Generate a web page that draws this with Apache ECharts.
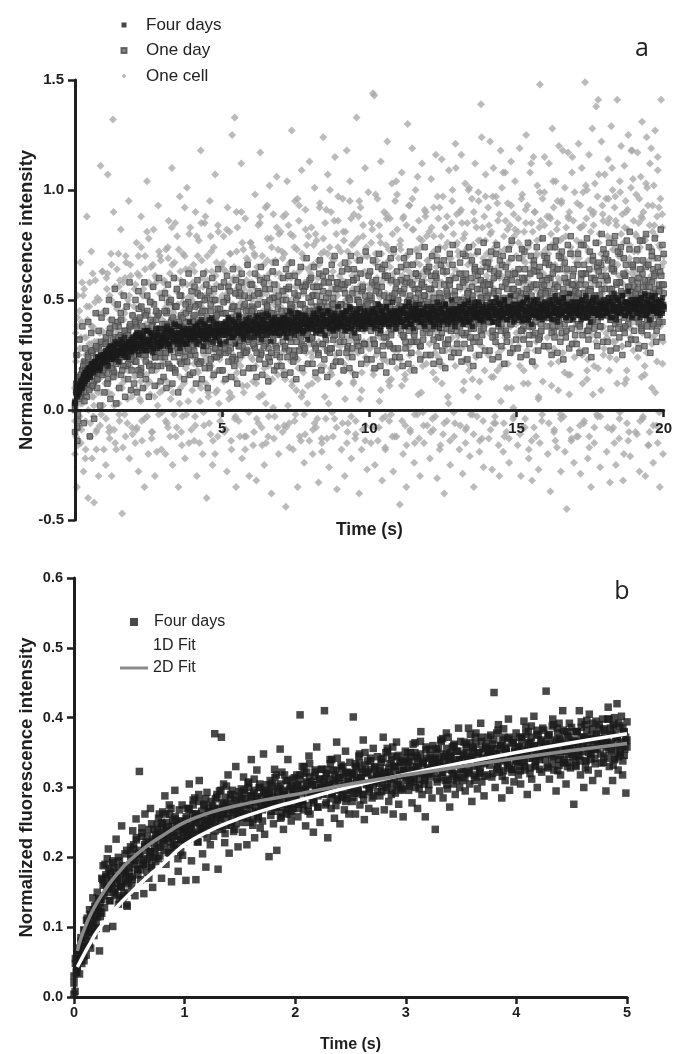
<!DOCTYPE html>
<html><head><meta charset="utf-8">
<script src="https://cdn.jsdelivr.net/npm/echarts@6/dist/echarts.min.js"></script>
<style>html,body{margin:0;padding:0;background:#fff}#c{width:675px;height:1054px}</style>
</head><body><div id="c"></div>
<script>
// ---------- DATA ----------
// Panel a values are intensity x100, panel b values are intensity x1000.
// Each array is one evenly sampled pass over the whole time span.
const panelASpan = 20;   // seconds
const panelBSpan = 5;    // seconds
const oneCellA = [
-20,35,8,-35,52,14,-8,28,67,-15,40,3,22,-28,55,18,-5,33,88,11,-40,26,47,-12,19,72,-22,38,6,-42,31,59,13,-9,44,24,-30,50,16,111,-2,36,63,21,-18,
45,12,-25,60,33,107,8,-10,52,28,71,-30,39,132,90,2,48,25,-18,64,35,10,56,-5,41,82,20,-47,30,58,14,44,-12,67,26,5,50,95,-22,37,61,19,-8,43,29,
22,55,-15,40,76,9,34,-28,61,47,13,88,-5,31,52,25,-35,70,38,16,104,43,-20,58,27,7,65,35,-10,49,82,20,-30,44,60,11,37,93,-2,53,29,68,-18,41,24,
58,14,40,-20,73,31,49,-8,86,26,62,5,38,110,-25,47,19,67,33,-12,54,79,28,-35,42,97,10,59,36,-3,71,45,22,-22,64,30,101,51,16,-15,39,83,25,57,9,
29,66,-14,48,90,35,-30,55,17,77,42,4,118,38,60,-20,46,25,85,52,12,-40,70,33,56,-6,95,41,20,63,-25,49,74,28,107,8,57,37,-12,81,44,23,65,-2,50,
52,18,79,-10,44,63,30,-28,92,37,57,8,71,40,-18,125,48,25,65,133,14,-35,55,83,33,-5,61,45,20,112,-22,50,73,28,-12,87,42,59,11,68,36,-30,54,76,24,
31,74,-16,56,43,98,20,-32,65,39,84,6,50,117,27,-8,70,45,60,-25,36,92,53,15,78,-12,41,102,58,24,-38,67,34,89,48,-3,62,19,106,40,73,-20,55,30,81,
60,26,-10,88,43,71,14,-44,55,104,38,66,-6,49,80,22,127,45,-18,62,33,95,52,9,73,-35,41,86,57,28,-14,109,47,69,17,-24,58,91,36,75,3,64,44,113,30,
45,83,12,-20,66,39,101,54,-8,77,29,60,-33,48,94,35,71,-15,57,124,20,42,85,-4,63,31,107,50,-26,74,38,90,16,55,-12,68,43,115,25,80,-36,52,97,34,61,
36,72,-18,59,96,44,21,-30,81,50,118,33,-6,67,47,104,26,-22,75,55,12,89,40,-13,63,133,30,78,52,-38,46,92,69,17,-9,84,57,39,110,24,70,-27,61,99,43,
62,28,-15,85,49,144,37,143,-25,71,54,19,96,45,-8,79,33,113,58,-32,66,41,90,23,-18,75,52,122,30,68,-5,87,46,14,103,60,-28,73,39,95,55,-12,82,48,27,
50,-43,77,34,108,61,-20,88,45,16,70,-35,57,130,40,93,25,-10,66,48,119,31,82,-24,59,100,43,72,-2,55,86,29,-30,74,47,112,20,63,-15,91,52,35,79,-7,68,
44,81,-22,59,105,37,70,-9,92,53,26,116,65,-31,48,87,33,74,-16,58,114,41,97,20,-38,62,83,50,-5,76,36,109,56,-25,69,42,95,28,80,-12,64,121,46,89,31,
72,34,-18,90,55,116,41,-29,78,60,23,103,47,-8,85,66,100,38,-21,70,52,96,14,75,-35,58,112,44,83,-3,63,99,30,-14,77,139,124,36,67,-26,88,57,107,40,71,
53,92,-13,68,122,40,81,-27,59,110,35,74,-6,97,50,18,86,63,-30,72,118,45,101,28,-19,79,56,108,38,-10,66,94,48,-24,84,60,113,31,76,-4,89,52,104,42,70,
61,-16,87,46,119,33,-30,74,98,55,12,81,-8,67,125,41,93,58,-22,76,108,37,85,-32,64,115,50,90,20,-12,71,102,44,-27,83,148,54,78,-5,96,62,29,115,48,73,
49,88,-20,71,112,38,-37,80,57,128,26,92,-9,66,104,45,-17,85,60,120,34,77,-28,95,52,118,-3,69,101,41,83,-45,63,117,55,90,16,74,-14,108,47,86,-24,99,58,
67,-12,94,52,121,36,83,-29,76,110,44,99,-6,62,149,48,87,18,-22,72,116,55,91,-35,68,128,40,84,-15,103,57,138,-2,97,141,43,80,-26,64,122,53,89,25,71,107,
58,96,-19,79,114,42,87,-33,65,129,50,100,-8,73,92,31,-25,84,141,46,70,-13,104,61,120,37,89,-32,76,111,53,95,14,-6,82,125,48,67,-21,101,59,118,40,86,72,
63,-10,98,51,117,39,85,-28,74,106,47,131,-4,90,57,20,-30,79,124,44,93,-16,68,112,54,119,33,81,-24,102,60,127,42,-7,88,115,49,75,-35,96,141,56,83,-20,70
];
const oneCellA2 = [
10,-12,42,25,-3,33,58,5,20,-18,47,14,30,-6,38,62,2,27,-10,51,18,35,8,44,23,
32,8,55,20,-8,41,66,15,28,-15,48,36,3,59,25,12,45,-2,70,30,18,52,38,6,43,
47,16,-9,62,33,5,74,24,55,-4,39,81,12,50,28,-13,66,36,20,58,2,43,70,27,9,
21,54,38,-6,69,30,11,83,45,-2,60,26,48,73,15,-10,57,35,92,19,41,4,64,31,50,
58,21,-7,44,70,30,12,85,49,-1,37,63,25,8,52,79,33,-14,46,17,67,40,3,56,28,
27,64,40,-9,53,15,81,35,6,59,44,-3,72,22,48,31,90,11,55,38,-12,66,19,47,76,
50,13,71,36,-4,61,26,88,43,7,57,32,-15,68,20,46,78,39,1,54,29,83,16,62,41,
33,69,18,52,-8,45,84,27,60,11,39,74,-2,56,23,93,48,6,65,35,-11,58,21,79,42,
61,24,47,-6,80,38,14,66,51,-13,35,72,28,91,44,3,57,19,69,40,-4,53,30,86,12,
22,58,43,77,5,49,-10,64,31,87,17,54,40,-5,71,26,95,46,9,62,36,-14,74,50,28,
55,30,82,16,47,-8,68,39,4,76,52,23,60,-3,89,35,13,65,44,-12,71,27,57,98,41,
38,73,11,59,45,-7,84,29,63,18,50,96,34,-15,67,42,7,78,55,24,-1,61,88,36,48,
64,25,51,-4,79,37,14,70,46,92,20,58,-11,43,83,31,6,66,53,27,100,40,-6,75,49,
29,62,44,85,9,56,-9,73,35,18,67,48,-2,90,41,24,59,77,13,52,-13,69,38,97,54,
57,35,80,15,48,-6,71,42,94,26,60,4,65,37,-12,86,50,21,74,45,10,63,-3,82,39,
43,76,20,58,-8,68,33,91,52,12,64,39,-14,81,47,27,70,55,6,99,36,-2,61,84,49,
66,28,53,87,11,45,-10,74,40,95,22,59,-4,78,49,17,63,36,88,7,56,-13,70,44,31,
39,72,50,-7,83,25,61,46,102,14,68,-12,55,34,89,20,64,43,-3,76,52,9,93,38,58,
60,33,85,18,54,-9,73,41,97,23,66,47,-1,80,29,57,12,90,44,-14,69,37,62,105,51,
46,79,24,61,-5,88,35,67,16,53,101,42,-10,74,30,59,84,8,48,-15,92,38,65,21,56
];
const oneCellA3 = [
-5,22,9,38,-16,14,45,3,28,-9,19,52,7,33,-22,25,11,41,0,17,58,-12,30,6,36,-3,24,49,13,-18,31,8,44,20,-7,27,15,63,2,35,
18,44,-4,31,62,12,37,-13,25,50,7,39,21,-9,56,29,3,46,16,71,-2,34,23,53,10,-17,41,27,60,14,36,-6,48,20,33,66,9,28,-11,43,
41,15,57,26,-8,35,70,19,47,4,31,-14,52,38,10,64,22,44,-3,29,78,13,49,33,-10,56,24,40,6,61,18,-19,45,34,72,8,27,53,-1,37,
22,59,36,-5,47,13,74,31,51,-12,40,27,66,8,44,19,85,35,-8,55,29,42,3,63,25,-16,49,38,12,70,33,-2,57,21,46,80,16,39,-9,52,
48,24,63,-3,37,79,18,52,33,-15,44,10,68,29,56,-7,41,88,22,35,59,6,46,30,-11,72,39,15,53,27,-20,61,43,9,84,34,50,-5,25,66,
30,67,13,49,-9,40,82,26,55,5,38,71,-14,46,21,60,35,-4,53,90,17,43,31,64,-12,48,24,76,39,8,57,-18,34,69,28,45,-1,62,19,51,
58,23,44,-10,70,33,12,61,48,-6,37,85,27,52,-16,41,66,19,55,3,46,93,31,-3,62,25,40,74,14,50,-13,36,68,29,57,-8,43,80,21,47,
35,72,16,54,-7,45,89,28,60,2,41,-17,67,32,50,13,79,38,-5,56,24,47,96,19,63,-12,42,30,71,8,53,-2,37,82,26,58,11,44,-14,65,
62,26,48,-9,75,36,15,57,43,-4,68,31,92,20,52,-19,46,78,34,6,59,40,-13,71,27,54,100,17,45,-1,63,33,86,22,49,-8,38,74,12,56,
29,66,45,-6,81,37,18,58,50,-15,72,24,47,95,33,-3,61,40,13,76,53,-11,36,68,27,88,44,5,57,-18,42,79,31,63,-7,48,21,70,39,55,
57,32,76,-8,49,18,67,43,98,25,60,-14,38,84,51,9,71,-4,45,30,64,-17,53,87,22,46,73,11,58,-2,35,80,28,62,-12,50,104,19,41,69,
40,75,23,58,-5,87,34,64,14,52,-16,70,45,29,93,-9,61,38,82,19,55,-2,47,73,31,106,26,-13,66,43,8,77,50,-7,59,36,90,21,68,48,
66,30,52,-10,83,41,17,72,49,-3,60,35,97,24,56,-18,44,79,12,65,38,-6,74,50,27,88,58,3,69,-14,47,85,33,61,-1,53,20,110,42,76,
34,70,47,-7,91,28,62,51,13,80,-15,56,39,74,21,101,45,-2,67,32,58,-11,86,48,25,71,53,6,95,-19,40,64,29,83,-5,57,18,77,44,61,
59,25,84,43,-9,70,36,97,15,55,-3,76,47,30,65,-16,89,51,20,61,41,108,-6,73,33,57,10,82,48,-13,68,38,93,26,54,1,79,45,63,35,
47,81,29,64,-11,53,96,37,70,18,58,-4,85,42,27,74,-18,61,50,112,22,67,39,-8,90,55,31,77,46,5,63,-15,86,35,71,13,58,99,41,52,
68,33,56,-6,88,44,21,75,52,104,28,63,-14,47,82,38,9,71,58,-2,94,41,26,66,49,-19,79,36,60,16,87,53,-9,72,30,115,45,62,24,57,
38,77,52,-12,69,27,93,46,61,12,84,-5,55,35,74,100,23,63,-17,48,81,40,58,7,90,-8,66,31,76,50,19,107,43,-3,71,37,59,86,28,64,
71,35,59,-8,96,46,24,78,55,110,31,67,-15,50,86,40,12,74,61,-4,99,44,29,69,52,-20,83,38,63,18,91,56,-10,75,33,118,48,65,27,60,
42,80,55,-11,72,30,96,49,64,15,87,-3,58,38,77,103,26,66,-16,51,84,43,61,10,93,-7,69,34,79,53,22,109,46,-1,74,40,62,89,31,67
];
const oneDayA = [
2,12,-14,9,15,6,18,11,22,8,14,25,17,10,21,27,13,19,24,16,29,20,26,18,23,
19,31,24,14,28,35,21,26,17,33,29,22,38,25,16,30,27,34,20,29,36,23,31,18,28,
33,22,38,27,41,30,19,35,29,44,25,32,37,21,34,28,40,31,24,36,43,27,33,20,30,
26,39,32,45,29,20,36,41,31,24,47,34,28,38,22,43,33,37,27,40,30,49,35,25,34,
42,31,25,38,48,34,22,44,36,29,40,33,51,27,37,45,30,35,24,41,38,46,32,28,39,
30,44,37,26,50,35,41,28,46,33,39,23,43,36,52,31,38,29,47,34,40,27,45,37,33,
47,35,29,42,38,54,31,44,26,40,36,49,33,45,28,41,37,51,32,43,39,25,46,35,40,
36,50,41,28,45,33,55,39,31,47,42,27,44,37,52,34,40,30,48,43,35,57,38,45,32,
44,33,52,39,29,47,41,56,35,43,30,49,38,45,27,53,40,36,48,32,46,42,58,37,41,
31,48,42,55,36,45,28,51,40,46,34,59,43,38,50,33,47,41,54,37,44,30,49,42,39,
50,38,45,32,57,43,48,35,53,40,46,29,52,44,39,60,41,47,34,51,43,37,55,45,42,
39,54,46,41,33,58,44,49,36,52,42,47,31,55,45,40,61,38,50,43,35,56,48,42,46,
48,35,55,44,51,38,62,45,40,53,33,49,46,57,41,37,52,44,59,39,47,42,54,36,50,
43,56,39,50,45,34,59,47,41,54,48,37,52,44,63,40,49,46,55,36,51,43,58,45,41,
52,40,57,46,36,54,49,43,61,38,50,45,56,42,47,35,59,44,51,48,39,55,46,62,43,
45,58,41,53,48,37,60,46,51,40,55,44,49,34,57,47,42,63,45,52,39,56,48,43,54,
38,54,47,60,43,50,36,57,45,52,41,64,48,44,55,39,51,46,58,42,49,37,61,47,53,
56,44,51,39,59,47,53,42,62,45,49,38,55,48,43,60,46,52,40,57,44,66,50,45,48,
43,60,48,55,41,52,46,63,39,57,50,44,58,47,53,37,61,49,45,56,42,54,48,65,51,
50,42,58,46,53,39,62,48,44,56,41,59,47,52,38,64,45,55,49,43,57,46,61,40,53
];
const oneDayA2 = [
3,10,-5,15,8,18,12,21,6,23,16,26,11,19,28,14,24,20,30,17,
24,33,20,29,37,26,18,31,27,40,22,34,28,25,36,30,21,38,27,32,
25,39,30,18,42,33,27,36,22,45,31,28,38,20,34,41,29,35,24,32,
37,24,44,31,28,40,19,35,47,30,26,39,33,42,22,36,29,45,32,27,
29,43,36,22,48,33,39,27,45,31,37,20,41,35,50,28,34,44,25,38,
44,30,38,51,27,41,35,24,47,33,39,29,53,36,42,26,45,34,31,40,
33,46,28,41,37,53,25,43,39,30,48,35,22,44,38,51,29,42,36,40,
45,31,40,55,34,27,48,38,43,24,50,36,41,33,56,29,46,39,35,42,
37,52,30,45,41,26,49,35,54,40,32,47,38,44,28,51,36,43,58,39,
48,34,43,57,39,29,46,41,53,36,44,31,50,42,27,55,38,47,40,45,
38,51,44,30,48,56,40,35,46,42,61,33,49,44,37,52,28,45,41,50,
47,36,53,42,31,49,45,58,39,44,34,51,43,55,29,46,41,52,37,48,
41,55,37,48,44,60,33,46,51,39,45,30,53,42,57,36,49,43,47,38,
50,38,46,59,42,35,53,45,40,56,31,48,44,61,39,51,43,37,54,46,
43,57,40,49,53,34,47,62,45,39,51,44,36,55,48,41,59,46,50,42,
54,41,48,36,59,46,52,43,38,56,47,63,40,50,45,33,53,49,57,44,
46,60,42,51,38,55,48,64,44,50,35,53,47,58,41,49,43,57,52,45,
51,39,57,47,62,43,49,36,54,46,60,41,52,48,65,44,38,55,50,47,
45,59,48,41,55,64,43,51,37,58,47,53,42,61,49,39,56,46,52,50,
53,42,60,48,37,56,50,65,44,52,41,58,47,62,45,39,54,49,57,46
];
const oneDayA3 = [
0,8,-8,13,5,16,10,20,4,18,12,24,9,15,27,11,21,17,29,14,23,19,31,16,25,
22,30,17,27,35,24,19,32,26,38,21,29,33,25,41,28,20,36,30,24,34,27,39,23,31,
28,40,22,35,46,30,17,38,33,25,43,29,36,20,41,32,27,48,24,37,31,44,26,34,39,
31,45,26,38,21,49,34,29,42,36,18,47,33,40,27,52,30,37,24,44,35,28,46,32,39,
40,27,47,33,53,30,38,22,45,36,50,29,42,34,19,48,37,31,55,28,43,35,26,46,39,
34,49,28,44,39,56,31,42,23,47,37,53,33,45,29,40,58,35,26,48,41,32,51,38,43,
45,30,52,37,26,48,41,59,34,43,29,55,39,47,24,50,36,44,32,57,40,28,49,42,35,
36,54,42,29,50,38,61,33,46,40,25,53,44,31,58,39,48,35,43,27,56,41,34,51,45,
49,33,56,41,28,52,45,62,37,47,30,58,43,51,35,44,26,60,40,48,34,55,39,46,42,
38,57,44,31,53,47,64,36,50,42,28,59,45,33,55,40,49,62,37,46,30,52,43,48,39,
52,36,58,45,30,54,40,65,47,38,56,43,33,61,49,41,51,29,59,44,37,53,46,63,40,
41,59,47,34,55,44,66,38,50,43,31,57,48,36,62,45,53,40,29,58,46,52,39,64,49,
55,38,61,46,32,57,43,68,40,51,45,35,63,48,41,54,30,59,47,37,66,44,52,42,50,
42,62,49,35,58,46,70,39,53,44,33,60,50,37,65,47,55,41,31,63,48,57,43,67,51,
57,40,64,47,33,60,45,71,42,54,48,36,66,50,43,58,31,62,49,39,69,46,55,44,52,
44,64,51,36,60,48,72,41,55,46,34,62,52,38,68,49,57,43,32,65,50,59,45,70,53,
59,42,66,49,35,62,47,74,44,56,50,38,69,52,45,60,33,64,51,41,71,48,57,46,54,
46,66,53,38,62,50,75,43,57,48,36,64,54,40,70,51,59,45,34,67,52,61,47,73,55,
61,44,68,51,37,64,49,76,46,58,52,40,71,54,47,62,35,66,53,43,73,50,59,48,56,
48,68,55,40,64,52,77,45,59,50,38,66,56,42,72,53,61,47,36,69,54,63,49,75,57
];
const oneDayA4 = [
-10,25,-2,32,8,38,-6,28,15,40,-12,35,20,-4,44,10,36,2,42,18,
8,45,12,50,5,41,15,55,3,48,10,44,18,52,6,47,14,58,9,43,
12,50,8,54,16,47,10,58,14,52,6,49,18,56,11,45,20,60,13,51,
15,53,10,57,19,50,12,60,17,55,8,52,21,58,14,48,22,62,16,54,
17,56,12,59,21,52,14,62,19,57,10,54,23,60,16,50,24,64,18,56,
18,58,14,61,22,54,15,64,20,59,12,56,25,62,17,52,26,66,19,57,
57,19,62,15,53,23,65,16,58,21,60,13,55,26,63,18,67,20,52,24,
20,60,16,64,24,56,17,67,22,61,14,58,27,65,19,54,28,69,21,59,
60,21,65,17,56,25,68,18,61,23,63,15,58,28,66,20,70,22,55,26,
22,63,18,67,26,58,19,70,24,64,16,60,29,68,21,56,30,72,23,61,
63,23,68,19,59,27,71,20,64,25,66,17,61,30,69,22,73,24,58,28,
24,65,20,69,28,60,21,72,26,66,18,62,31,70,23,57,32,74,25,63,
65,25,70,21,61,29,73,22,66,27,68,19,63,32,71,24,75,26,60,30,
26,67,22,71,30,62,23,74,28,68,20,64,33,72,25,59,34,76,27,65,
67,27,72,23,63,31,75,24,68,29,70,21,65,34,73,26,77,28,62,32,
28,69,24,73,32,64,25,76,30,70,22,66,35,74,27,61,36,78,29,67,
69,29,74,25,65,33,77,26,70,31,72,23,67,36,75,28,79,30,64,34,
30,71,26,75,34,66,27,78,32,72,24,68,37,76,29,63,38,80,31,69,
71,31,76,27,67,35,79,28,72,33,74,25,69,38,77,30,81,32,66,36,
32,73,28,77,36,68,29,80,34,74,26,70,39,78,31,65,40,82,33,71
];
const fourDaysA = [
3,8,6,11,9,13,10,15,12,17,14,16,19,15,21,18,17,22,19,24,20,18,25,21,23,
22,27,24,20,26,29,23,25,28,31,24,27,22,30,26,28,25,33,27,29,24,31,28,26,30,
31,27,34,29,25,30,33,28,32,36,30,27,31,29,35,32,26,33,30,34,28,31,37,30,32,
29,35,32,38,30,33,27,36,31,34,39,32,30,35,28,33,37,31,34,36,30,33,40,32,35,
37,32,35,30,39,34,36,41,33,29,35,38,34,32,37,35,42,31,36,34,39,33,36,30,37,
34,39,36,31,38,42,35,37,33,40,36,30,38,35,43,37,34,39,32,36,41,35,38,33,37,
40,36,33,38,43,35,39,37,32,41,38,36,44,34,39,37,31,40,38,42,35,37,39,34,41,
38,42,35,39,33,41,37,45,36,40,38,34,42,39,36,44,37,40,35,39,43,38,32,41,39,
41,37,44,39,35,42,40,46,38,36,43,40,34,41,39,45,37,42,40,36,44,38,41,47,39,
40,44,38,42,36,45,41,39,47,37,43,40,35,42,44,39,41,46,38,40,43,37,42,45,40,
43,39,46,41,37,44,42,48,40,36,45,42,39,43,47,41,38,44,42,49,40,43,37,45,42,
42,46,40,44,38,47,43,41,49,39,45,42,37,44,46,41,43,48,40,42,45,39,44,47,43,
44,40,47,42,38,45,43,49,41,37,46,43,40,44,48,42,39,45,43,50,41,44,38,46,43,
43,47,41,45,39,48,44,42,50,40,46,43,38,45,47,42,44,49,41,43,46,40,45,48,44,
46,42,49,44,40,47,45,51,43,39,48,45,42,46,50,44,41,47,45,52,43,46,40,48,45,
44,48,42,46,40,49,45,43,51,41,47,44,39,46,48,43,45,50,42,44,47,41,46,49,45,
47,43,50,45,41,48,46,52,44,40,49,46,43,47,51,45,42,48,46,53,44,47,41,49,46,
45,49,43,47,41,50,46,44,52,42,48,45,40,47,49,44,46,51,43,45,48,42,47,50,46,
48,44,51,46,42,49,47,53,45,41,50,47,44,48,52,46,43,49,47,54,45,48,42,50,47,
46,50,44,48,42,51,47,45,53,43,49,46,41,48,50,45,47,52,44,46,49,43,48,51,47
];
const fourDaysA2 = [
4,9,7,12,10,14,16,13,18,15,19,17,21,18,22,20,23,19,24,22,
23,26,22,28,25,24,29,27,25,30,26,28,31,27,29,26,30,28,32,29,
30,34,28,32,35,29,33,31,27,36,32,30,34,28,33,31,35,29,32,33,
34,31,36,33,29,37,35,32,34,38,31,35,33,30,36,34,32,37,33,35,
36,33,38,35,31,37,34,39,36,32,35,38,34,36,40,33,37,35,31,36,
38,35,40,36,33,39,37,41,34,38,36,40,35,37,33,39,38,36,42,37,
37,40,35,39,42,36,38,34,41,39,37,43,36,40,38,35,39,41,37,38,
40,37,42,38,35,41,39,44,37,40,36,42,39,38,43,36,41,39,37,40,
39,42,37,41,44,38,40,36,43,41,38,45,39,42,40,37,41,43,38,40,
42,39,44,40,37,43,41,46,38,42,40,44,37,43,41,39,45,40,42,41,
41,44,39,43,46,40,42,38,45,43,40,47,41,44,42,39,43,45,40,42,
43,40,45,41,38,44,42,47,39,43,41,46,42,44,40,45,43,38,44,42,
42,45,40,44,47,41,43,39,46,44,41,48,42,45,43,40,44,46,41,43,
45,42,47,43,40,46,44,49,41,45,43,47,44,42,48,41,46,44,43,45,
44,47,42,46,49,43,45,41,48,46,43,50,44,47,45,42,46,48,43,45,
46,43,48,44,41,47,45,50,42,46,44,49,45,43,48,44,47,45,42,46,
45,48,43,47,50,44,46,42,49,47,44,51,45,48,46,43,47,49,44,46,
47,44,49,45,42,48,46,51,43,47,45,50,46,44,49,45,48,46,43,47,
46,49,44,48,51,45,47,43,50,48,45,52,46,49,47,44,48,50,45,47,
48,45,50,46,43,49,47,52,44,48,46,51,47,45,50,46,49,47,44,48
];
const fourDaysA3 = [
3,7,10,8,13,11,15,17,14,19,16,20,18,22,19,21,24,20,23,25,
25,22,27,24,29,26,23,28,30,25,27,32,26,29,24,31,28,30,27,33,
32,28,35,30,33,27,34,31,29,36,32,30,35,28,33,37,31,34,29,32,
33,37,31,35,30,36,34,39,32,35,33,38,31,36,34,30,37,35,33,36,
35,38,33,37,40,34,36,32,39,37,34,41,35,38,36,33,37,39,35,36,
36,39,34,38,41,35,37,33,40,38,35,42,36,39,37,34,38,40,36,37,
39,36,41,37,34,40,38,43,36,39,37,42,38,35,41,37,40,38,35,39,
38,41,36,40,43,37,39,35,42,40,37,44,38,41,39,36,40,42,37,39,
41,38,43,39,36,42,40,45,38,41,39,44,40,37,43,39,42,40,37,41,
40,43,38,42,45,39,41,37,44,42,39,46,40,43,41,38,42,44,39,41,
43,40,45,41,38,44,42,47,40,43,41,46,42,39,45,41,44,42,39,43,
42,45,40,44,47,41,43,39,46,44,41,48,42,45,43,40,44,46,41,43,
44,41,46,42,39,45,43,48,41,44,42,47,43,40,46,42,45,43,40,44,
43,46,41,45,48,42,44,40,47,45,42,49,43,46,44,41,45,47,42,44,
45,42,47,43,40,46,44,49,42,45,43,48,44,41,47,43,46,44,41,45,
44,47,42,46,49,43,45,41,48,46,43,50,44,47,45,42,46,48,43,45,
46,43,48,44,41,47,45,50,43,46,44,49,45,42,48,44,47,45,42,46,
45,48,43,47,50,44,46,42,49,47,44,51,45,48,46,43,47,49,44,46,
47,44,49,45,42,48,46,51,44,47,45,50,46,43,49,45,48,46,43,47,
46,49,44,48,51,45,47,43,50,48,45,52,46,49,47,44,48,50,45,47
];
const fourDaysB = [
4,8,36,42,55,33,64,48,71,52,95,60,113,80,125,70,98,142,88,117,106,150,128,66,135,
120,168,145,190,98,155,212,138,176,160,101,185,148,226,170,133,195,158,245,142,180,205,165,130,188,
172,215,160,238,196,145,255,183,206,323,168,230,190,148,262,210,178,221,199,270,185,157,240,204,226,
235,198,262,214,170,248,226,288,190,239,207,275,222,165,253,231,296,212,244,180,268,225,252,203,240,
246,167,270,228,305,241,195,262,233,285,168,250,222,310,259,238,205,276,248,186,293,240,265,218,257,
262,230,377,248,290,183,268,255,372,240,305,221,275,262,318,206,284,250,296,237,270,330,259,215,288,
270,298,236,315,262,284,218,306,275,250,340,266,292,228,279,325,255,300,242,287,268,348,233,296,274,
282,201,310,266,295,248,326,280,210,302,272,355,258,290,240,318,285,262,340,276,298,252,312,270,294,
290,318,258,304,404,280,330,268,296,245,322,288,345,262,308,284,236,316,295,358,272,303,250,326,291,
298,410,275,316,228,305,340,270,292,325,256,310,365,284,300,248,332,296,318,268,352,290,308,262,321,
306,280,401,318,262,330,298,345,275,312,290,368,254,322,305,338,270,300,326,285,356,308,266,318,294,
314,288,340,302,372,268,322,296,352,280,318,306,345,262,330,292,365,310,276,336,300,325,258,318,342,
322,350,296,338,310,278,362,318,300,345,270,328,312,380,290,334,305,258,342,320,296,355,315,285,338,
330,240,355,312,340,295,368,322,285,345,310,378,298,336,272,350,325,305,362,290,340,318,385,300,332,
338,310,365,295,350,322,385,305,342,280,358,330,372,315,298,345,320,392,308,355,288,336,362,318,346,
342,375,315,356,436,300,348,330,390,322,360,285,340,372,310,352,335,398,296,345,326,368,308,355,338,
348,318,372,305,360,338,395,325,350,290,380,342,365,312,355,402,330,345,300,375,340,358,322,385,348,
352,438,330,375,312,362,345,398,325,358,295,385,340,370,318,352,410,335,362,305,380,348,392,328,365,
358,276,380,330,365,345,410,318,372,352,300,390,338,362,325,405,348,375,310,368,342,395,355,320,385,
362,335,398,345,375,295,365,415,330,385,352,310,390,340,372,420,325,360,348,402,318,378,355,292,368
];
const fourDaysB2 = [
30,55,42,70,61,85,78,96,88,110,102,93,118,107,125,99,132,115,140,122,
170,188,162,175,198,158,180,168,192,150,172,163,185,140,158,178,145,168,132,150,
185,205,172,218,195,228,183,210,200,235,190,215,222,198,240,208,188,226,212,232,
246,256,232,242,265,220,238,250,228,262,214,245,236,258,218,230,252,208,240,222,
245,258,232,268,250,240,275,255,262,236,280,248,266,242,258,284,252,270,246,262,
274,266,284,260,270,295,255,278,262,286,246,276,268,290,252,264,282,248,272,258,
268,284,258,292,275,262,300,280,288,256,296,272,286,264,305,278,270,294,276,282,
290,285,302,278,286,314,272,294,280,305,264,296,288,310,270,284,302,266,292,276,
288,302,276,312,294,280,320,298,306,274,315,290,304,282,325,296,288,312,295,300,
308,302,320,296,304,334,290,312,298,324,282,314,306,328,288,302,320,284,310,296,
302,318,292,328,310,296,336,314,322,290,332,306,320,298,342,312,304,328,310,316,
324,318,336,312,320,350,306,328,314,340,296,330,322,344,304,318,336,298,325,310,
318,332,306,344,326,312,350,330,338,304,348,322,336,314,358,328,320,342,326,332,
340,334,350,328,336,366,322,344,330,356,312,346,338,358,320,334,352,314,340,326,
332,346,320,358,340,326,364,344,352,318,362,336,350,328,372,342,334,356,340,346,
352,346,362,340,348,378,334,356,342,368,324,358,350,370,332,346,364,326,352,338,
342,358,330,370,350,336,376,354,362,328,372,346,360,338,382,352,344,366,350,356,
362,356,372,350,358,388,344,366,352,378,332,368,360,382,340,356,374,336,362,348,
352,368,340,380,360,346,386,364,372,338,382,356,370,348,392,362,354,376,360,366,
370,365,382,360,368,398,354,376,362,388,342,378,370,392,350,365,385,346,372,358
];
const fourDaysB3 = [
20,48,35,66,52,80,72,58,95,86,104,75,118,92,110,130,98,124,140,115,
140,160,128,172,150,184,138,165,195,155,178,145,200,168,158,188,148,176,210,162,
178,198,168,212,190,225,175,205,182,242,196,218,188,230,170,208,248,200,222,194,
215,235,202,250,224,210,262,232,244,206,270,228,218,255,238,198,248,226,275,236,
236,255,226,270,244,230,282,250,262,222,290,240,258,234,274,246,228,265,252,280,
250,270,238,286,258,244,296,264,276,234,302,256,272,246,290,262,240,280,268,294,
262,282,250,296,270,256,308,276,288,246,312,266,284,258,300,274,252,292,280,304,
272,292,260,306,280,266,318,286,298,256,322,276,294,268,310,284,262,302,290,314,
282,302,270,318,292,276,330,296,308,266,334,288,304,278,322,294,272,312,300,326,
290,312,278,326,300,284,340,306,318,274,342,296,314,286,330,302,280,322,308,336,
298,320,286,334,308,292,348,314,326,282,350,304,322,294,338,310,288,330,316,344,
306,328,294,342,316,300,356,322,334,290,358,312,330,302,346,318,296,338,324,352,
314,336,302,350,324,308,364,330,342,298,366,320,338,310,354,326,304,346,332,360,
320,342,308,356,330,314,370,336,348,304,372,326,344,316,360,332,310,352,338,366,
326,348,314,362,336,320,376,342,354,310,378,332,350,322,366,338,316,358,344,372,
332,354,320,368,342,326,382,348,360,316,384,338,356,328,372,344,322,364,350,378,
336,358,324,372,346,330,386,352,364,320,388,342,360,332,376,348,326,368,354,382,
340,362,328,376,350,334,390,356,368,324,392,346,364,336,380,352,330,372,358,386,
344,366,332,380,354,338,394,360,372,328,396,350,368,340,384,356,334,376,362,390,
348,370,336,384,358,342,398,364,376,332,400,354,372,344,388,360,338,380,366,394
];
const fitTime = [0.03,0.06,0.1,0.15,0.2,0.3,0.4,0.5,0.65,0.8,1,1.25,1.5,1.75,2,2.5,3,3.5,4,4.5,5];
const fit1D = [0.043,0.052,0.064,0.078,0.092,0.112,0.131,0.147,0.17,0.19,0.218,0.24,0.256,0.269,0.28,0.301,0.319,0.335,0.35,0.364,0.377];
const fit2D = [0.066,0.083,0.1,0.118,0.133,0.158,0.178,0.195,0.215,0.231,0.25,0.265,0.275,0.283,0.29,0.305,0.318,0.33,0.342,0.353,0.363];
const yRangeA = [-0.5, 1.5, 0.5];  // min, max, step
const yRangeB = [0, 0.6, 0.1];
const xRangeA = [0, 20, 5];
const xRangeB = [0, 5, 1];

// ---------- BUILD ----------
function passes(span, scale, arrays) {
  const out = [];
  arrays.forEach(vals => vals.forEach((v, i) => out.push([i * span / (vals.length - 1), v / scale])));
  return out;
}
function pairs(xs, ys) { return xs.map((x, i) => [x, ys[i]]); }

const F = '"Liberation Sans", Arial, sans-serif';
const INK = '#1e1e1e';
function axis(extra, labelExtra, nameSize) {
  return Object.assign({
    type: 'value',
    axisLine: { onZero: true, lineStyle: { color: INK, width: 3 } },
    axisTick: { length: 7, lineStyle: { color: INK, width: 2.5 } },
    splitLine: { show: false },
    axisLabel: Object.assign({ color: INK, fontFamily: F, fontWeight: 'bold' }, labelExtra),
    nameTextStyle: { color: INK, fontFamily: F, fontWeight: 'bold', fontSize: nameSize },
    nameLocation: 'middle',
    nameMoveOverlap: false,
    z: 10
  }, extra);
}
const fmt1 = v => v.toFixed(1);

const xA = axis({ gridIndex: 0, min: xRangeA[0], max: xRangeA[1], interval: xRangeA[2], name: 'Time (s)', nameGap: 1 },
  { fontSize: 15, margin: -99, showMinLabel: false }, 17.5);
const yA = axis({ gridIndex: 0, min: yRangeA[0], max: yRangeA[1], interval: yRangeA[2],
  name: 'Normalized fluorescence intensity', nameGap: 39, nameRotate: 90 },
  { fontSize: 15, margin: 11, formatter: fmt1 }, 18.5);
const xB = axis({ gridIndex: 1, min: xRangeB[0], max: xRangeB[1], interval: xRangeB[2], name: 'Time (s)', nameGap: 40 },
  { fontSize: 14.5, margin: 8 }, 16);
const yB = axis({ gridIndex: 1, min: yRangeB[0], max: yRangeB[1], interval: yRangeB[2],
  name: 'Normalized fluorescence intensity', nameGap: 38, nameRotate: 90 },
  { fontSize: 14.5, margin: 11, formatter: fmt1 }, 18.5);

const chart = echarts.init(document.getElementById('c'), null, { renderer: 'canvas' });
chart.setOption({
  animation: false,
  backgroundColor: '#fff',
  grid: [
    { left: 75, top: 80, width: 590, height: 440 },
    { left: 74, top: 578, width: 553, height: 420 }
  ],
  xAxis: [xA, xB],
  yAxis: [yA, yB],
  legend: [
    { data: ['Four days', 'One day', 'One cell'], orient: 'vertical', left: 115.5, top: 10,
      itemWidth: 5, itemHeight: 5, itemGap: 5.5, symbolKeepAspect: true,
      textStyle: { fontSize: 17, fontFamily: F, color: '#222', lineHeight: 20, padding: [0, 0, 0, 14.5] } },
    { data: ['Four days'], orient: 'vertical', left: 125, top: 608,
      itemWidth: 8, itemHeight: 8, symbolKeepAspect: true,
      textStyle: { fontSize: 16, fontFamily: F, color: '#222', lineHeight: 18, padding: [0, 0, 0, 11] } },
    { data: ['1D Fit', '2D Fit'], orient: 'vertical', left: 115, top: 632, icon: 'rect',
      itemWidth: 28, itemHeight: 3, itemGap: 4,
      textStyle: { fontSize: 16, fontFamily: F, color: '#222', lineHeight: 18 } }
  ],
  graphic: [
    { type: 'text', x: 642, y: 49, style: { text: 'a', font: '25px "Open Sans"', fill: '#222', align: 'center', verticalAlign: 'middle' } },
    { type: 'text', x: 622, y: 592, style: { text: 'b', font: '25px "Open Sans"', fill: '#222', align: 'center', verticalAlign: 'middle' } }
  ],
  series: [
    { type: 'scatter', name: 'One cell', xAxisIndex: 0, yAxisIndex: 0,
      data: passes(panelASpan, 100, [oneCellA, oneCellA2, oneCellA3]),
      symbol: 'diamond', symbolSize: 8, itemStyle: { color: '#aaaaaa' }, emphasis: { disabled: true } },
    { type: 'scatter', name: 'One day', xAxisIndex: 0, yAxisIndex: 0,
      data: passes(panelASpan, 100, [oneDayA, oneDayA2, oneDayA3, oneDayA4]),
      symbol: 'rect', symbolSize: 5.5, itemStyle: { color: '#6e6e6e', borderColor: '#4a4a4a', borderWidth: 1 }, emphasis: { disabled: true } },
    { type: 'scatter', name: 'Four days', xAxisIndex: 0, yAxisIndex: 0,
      data: passes(panelASpan, 100, [fourDaysA, fourDaysA2, fourDaysA3]),
      symbol: 'rect', symbolSize: 5.5, itemStyle: { color: '#1a1a1a' }, emphasis: { disabled: true } },
    { type: 'scatter', name: 'Four days', xAxisIndex: 1, yAxisIndex: 1,
      data: passes(panelBSpan, 1000, [fourDaysB, fourDaysB2, fourDaysB3]),
      symbol: 'rect', symbolSize: 7.5, itemStyle: { color: '#1a1a1a' }, emphasis: { disabled: true } },
    { type: 'line', name: '1D Fit', xAxisIndex: 1, yAxisIndex: 1, data: pairs(fitTime, fit1D), symbol: 'none', smooth: 0.4,
      lineStyle: { color: '#ffffff', width: 3.5 }, itemStyle: { color: '#ffffff' }, emphasis: { disabled: true }, z: 5 },
    { type: 'line', name: '2D Fit', xAxisIndex: 1, yAxisIndex: 1, data: pairs(fitTime, fit2D), symbol: 'none', smooth: 0.4,
      lineStyle: { color: '#8a8a8a', width: 3.5 }, itemStyle: { color: '#8a8a8a' }, emphasis: { disabled: true }, z: 5 }
  ]
});
</script></body></html>
